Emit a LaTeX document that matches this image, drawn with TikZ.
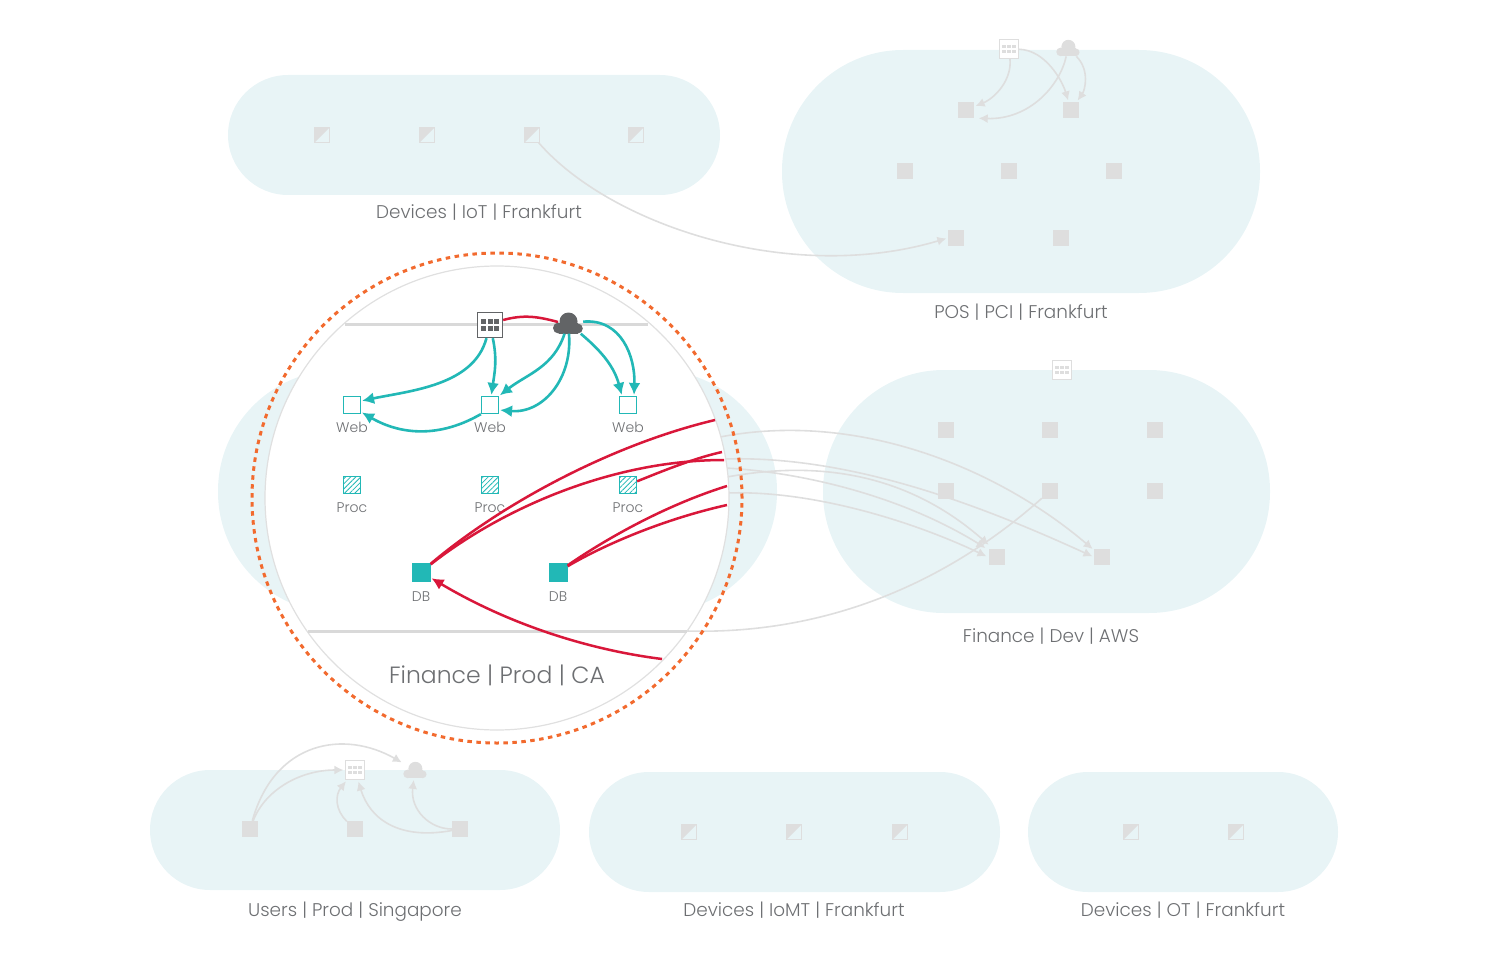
\documentclass[tikz,border=0pt]{standalone}
\usepackage{fontspec}
\usepackage{tikz}
\setmainfont{Poppins}[UprightFont=* Light]
\usetikzlibrary{arrows.meta}
\usetikzlibrary{patterns.meta}
\usetikzlibrary{positioning}
\definecolor{zonefill}{HTML}{E8F4F6}
\definecolor{fadegrey}{HTML}{DEDEDE}
\definecolor{bandgrey}{HTML}{D9D9D9}
\definecolor{lensgrey}{HTML}{E0E0E0}
\definecolor{labelgrey}{HTML}{6D6F72}
\definecolor{icongrey}{HTML}{626466}
\definecolor{tealflow}{HTML}{22B8B6}
\definecolor{redflow}{HTML}{D9173A}
\definecolor{ringorange}{HTML}{F26A2E}
\tikzset{headed/.style = {-{Latex[length=#1,width=#1]}}}
\tikzset{
  zone/.style = {fill=zonefill, inner sep=0pt},
  zonetext/.style = {text=labelgrey, font=\fontsize{18.4}{20}\selectfont, inner sep=0pt,
                     text height=17pt, text depth=4pt},
  smalltext/.style = {text=labelgrey, font=\fontsize{14}{15}\selectfont, inner sep=0pt,
                      text height=10pt, text depth=3pt},
  plainbox/.style = {fill=fadegrey, minimum size=16pt, inner sep=0pt},
  halfbox/.style = {draw=fadegrey, minimum size=15pt, inner sep=0pt,
                    path picture={\fill [fadegrey] (path picture bounding box.north west)
                      -- (path picture bounding box.north east)
                      -- (path picture bounding box.south west) -- cycle;}},
  webbox/.style = {draw=tealflow, fill=white, line width=1.2pt, minimum size=17pt, inner sep=0pt},
  procbox/.style = {draw=tealflow, line width=1.2pt, minimum size=17pt, inner sep=0pt,
                    preaction={fill=white},
                    pattern={Lines[angle=45,distance=3.6pt,line width=0.8pt]},
                    pattern color=tealflow},
  dbbox/.style = {fill=tealflow, minimum size=19pt, inner sep=0pt},
  fadeflow/.style = {draw=fadegrey, line width=1.6pt, headed=9pt, shorten >=1.5pt},
  fadeline/.style = {draw=fadegrey, line width=1.6pt},
  tealarrow/.style = {draw=tealflow, line width=2.6pt, headed=12pt, shorten >=1pt},
  redline/.style = {draw=redflow, line width=2.5pt},
  band/.style = {draw=bandgrey, line width=3pt}
}
\newcommand{\gridicon}[5]{
  \node [draw=#5, fill=white, line width=#4, minimum size=#3, inner sep=0pt] (#1) at (#2) {};
  \begin{scope}[shift={(#2)}, scale=#3/26pt]
    \foreach \cx in {-6.8, 0, 6.8}
      \foreach \cy in {-3.5, 3.5}
        \fill [#5] (\cx-2.6, \cy-2.6) rectangle (\cx+2.6, \cy+2.6);
  \end{scope}
}
\newcommand{\cloudicon}[4]{
  \node [minimum width=#3*30pt, minimum height=#3*21pt, inner sep=0pt] (#1) at (#2) {};
  \begin{scope}[shift={(#2)}, scale=#3, #4]
    \fill (0.5, -1.5) circle (9);
    \fill (-9.5, 5) circle (5.5);
    \fill (9.8, 5.5) circle (5);
    \fill (-9.5, 0) rectangle (9.8, 10.5);
  \end{scope}
}
\begin{document}
\begin{tikzpicture}[x=1pt, y=-1pt]
  \useasboundingbox (0, 0) rectangle (1488, 960);

  % zones
  \node [zone, minimum width=492pt, minimum height=120pt, rounded corners=60pt] (iotzone) at (474, 135) {};
  \node [zone, minimum width=478pt, minimum height=243pt, rounded corners=121pt] (poszone) at (1021, 171.5) {};
  \node [zone, minimum width=559pt, minimum height=243pt, rounded corners=121pt] (prodzone) at (497.5, 491.5) {};
  \node [zone, minimum width=447pt, minimum height=243pt, rounded corners=121pt] (devzone) at (1046.5, 491.5) {};
  \node [zone, minimum width=410pt, minimum height=120pt, rounded corners=60pt] (userzone) at (355, 830) {};
  \node [zone, minimum width=411pt, minimum height=120pt, rounded corners=60pt] (iomtzone) at (794.5, 832) {};
  \node [zone, minimum width=310pt, minimum height=120pt, rounded corners=60pt] (otzone) at (1183, 832) {};

  \node [zonetext] (iottext) at (479, 212) {Devices | IoT | Frankfurt};
  \node [zonetext] (postext) at (1021, 312) {POS | PCI | Frankfurt};
  \node [zonetext] (devtext) at (1051, 636) {Finance | Dev | AWS};
  \node [zonetext] (usertext) at (355, 910) {Users | Prod | Singapore};
  \node [zonetext] (iomttext) at (794, 910) {Devices | IoMT | Frankfurt};
  \node [zonetext] (ottext) at (1183, 910) {Devices | OT | Frankfurt};

  % faded members
  \foreach \name/\x/\y in {iota/322/135, iotb/427/135, iotc/532/135, iotd/636/135,
                           iomta/689/832, iomtb/794/832, iomtc/900/832,
                           ota/1131/832, otb/1236/832}
    \node [halfbox] (\name) at (\x, \y) {};
  \foreach \name/\x/\y in {posa/966/110, posb/1071/110, posc/905/171, posd/1009/171, pose/1114/171,
                           posf/956/238, posg/1061/238,
                           deva/946/430, devb/1050/430, devc/1155/430,
                           devd/946/491, deve/1050/491, devf/1155/491,
                           devg/997/557, devh/1102/557,
                           usera/250/829, userb/355/829, userc/460/829}
    \node [plainbox] (\name) at (\x, \y) {};
  \gridicon{posgrid}{1009, 49}{19pt}{1.2pt}{fadegrey}
  \gridicon{devgrid}{1062, 370}{19pt}{1.2pt}{fadegrey}
  \gridicon{usergrid}{355, 770}{19pt}{1.2pt}{fadegrey}
  \cloudicon{poscloud}{1068, 48}{0.78}{fadegrey}
  \cloudicon{usercloud}{415, 770}{0.78}{fadegrey}

  % faded flows
  \draw [fadeflow] (iotc) .. controls (610, 225) and (790, 285) .. (posf.west);
  \draw [fadeflow] (posgrid) .. controls (1012, 80) and (995, 98) .. (posa);
  \draw [fadeflow] (posgrid) .. controls (1045, 50) and (1062, 80) .. (posb);
  \draw [fadeflow] (poscloud) .. controls (1060, 85) and (1030, 120) .. ([xshift=3pt]posa.south east);
  \draw [fadeflow] (poscloud) .. controls (1090, 70) and (1085, 90) .. (posb);
  \draw [fadeflow] (usera) .. controls (275, 740) and (345, 730) .. (usercloud);
  \draw [fadeflow] (usera) .. controls (265, 790) and (300, 770) .. (usergrid);
  \draw [fadeflow] (userb) .. controls (335, 810) and (335, 795) .. (usergrid);
  \draw [fadeflow] (userc) .. controls (400, 840) and (370, 820) .. (usergrid);
  \draw [fadeflow] (userc) .. controls (430, 829) and (410, 810) .. (usercloud);

  \coordinate (edgea) at (720, 437);
  \coordinate (edgeb) at (724, 459);
  \coordinate (edgec) at (725, 468);
  \coordinate (edged) at (727, 477);
  \coordinate (edgee) at (727, 493);
  \coordinate (bandbl) at (308, 631);
  \coordinate (bandbr) at (687, 631);
  \draw [fadeflow] (edgea) .. controls (860, 410) and (1000, 470) .. (devh);
  \draw [fadeflow] (edgeb) .. controls (850, 455) and (980, 505) .. (devh.west);
  \draw [fadeflow] (edgec) .. controls (800, 472) and (900, 495) .. ([xshift=-2pt]devg.north west);
  \draw [fadeflow] (edged) .. controls (830, 458) and (915, 480) .. ([xshift=1pt,yshift=3pt]devg.north west);
  \draw [fadeflow] (edgee) .. controls (810, 490) and (910, 520) .. ([xshift=-1pt]devg.west);
  \draw [fadeline] (deve) .. controls (950, 580) and (830, 635) .. (bandbr);

  % lens on the prod zone
  \node [circle, draw=lensgrey, line width=1.2pt, fill=white, minimum size=464pt, inner sep=0pt] (lens) at (497, 498) {};
  \node [circle, draw=ringorange, line width=3pt, dash pattern=on 4.5pt off 4.5pt, minimum size=490pt, inner sep=0pt] (ring) at (497, 498) {};

  \coordinate (bandtl) at (345, 324);
  \coordinate (bandtr) at (648, 324);
  \draw [band] (bandtl) -- (bandtr);
  \draw [band] (bandbl) -- (bandbr);

  \node [zonetext, font=\fontsize{23.5}{25}\selectfont] (prodtext) at (497, 677) {Finance | Prod | CA};

  % prod members
  \node [webbox] (weba) at (352, 405) {};
  \node [webbox] (webb) at (490, 405) {};
  \node [webbox] (webc) at (628, 405) {};
  \node [procbox] (proca) at (352, 485) {};
  \node [procbox] (procb) at (490, 485) {};
  \node [procbox] (procc) at (628, 485) {};
  \node [dbbox] (dba) at (421, 572) {};
  \node [dbbox] (dbb) at (558, 572) {};
  \node [smalltext, below=8pt of weba] (webatext) {Web};
  \node [smalltext, below=8pt of webb] (webbtext) {Web};
  \node [smalltext, below=8pt of webc] (webctext) {Web};
  \node [smalltext, below=8pt of proca] (procatext) {Proc};
  \node [smalltext, below=8pt of procb] (procbtext) {Proc};
  \node [smalltext, below=8pt of procc] (procctext) {Proc};
  \node [smalltext, below=10pt of dba] (dbatext) {DB};
  \node [smalltext, below=10pt of dbb] (dbbtext) {DB};

  \gridicon{prodgrid}{490, 325}{25pt}{1.3pt}{icongrey}
  \coordinate (cloudmouth) at (558, 322);
  \draw [redline] ([yshift=5pt]prodgrid.east) to [out=15, in=165] (cloudmouth);
  \cloudicon{prodcloud}{568, 323}{1}{icongrey}

  % prod flows
  \draw [tealarrow] (prodgrid) to [out=-105, in=12, looseness=0.9] ([yshift=4pt]weba.east);
  \draw [tealarrow] (prodgrid) to [out=-78, in=82] (webb);
  \draw [tealarrow] (prodcloud) to [out=-108, in=38] (webb.north east);
  \draw [tealarrow] (prodcloud) to [out=-85, in=-5, looseness=1.1] ([yshift=-5pt]webb.east);
  \draw [tealarrow] (prodcloud) to [out=-40, in=105] ([xshift=-6pt]webc.north);
  \draw [tealarrow] (prodcloud) to [out=5, in=88, looseness=1.1] ([xshift=6pt]webc.north);
  \draw [tealarrow] (webb.south west) to [out=-150, in=-30] ([yshift=-7pt]weba.east);

  \coordinate (exita) at (715, 420);
  \coordinate (exitb) at (722, 452);
  \coordinate (exitc) at (724, 460);
  \coordinate (exitd) at (727, 486);
  \coordinate (exite) at (727, 505);
  \coordinate (exitf) at (662, 659);
  \draw [redline] (dba) .. controls (500, 505) and (610, 445) .. (exita);
  \draw [redline] (dba) .. controls (500, 510) and (610, 460) .. (exitc);
  \draw [redline] (procc) .. controls (665, 470) and (695, 458) .. (exitb);
  \draw [redline] (dbb) .. controls (600, 543) and (660, 507) .. (exitd);
  \draw [redline] (dbb) .. controls (600, 547) and (660, 520) .. (exite);
  \draw [redline, headed=12pt, shorten >=1pt] (exitf) .. controls (590, 650) and (510, 625) .. (dba);
\end{tikzpicture}
\end{document}
